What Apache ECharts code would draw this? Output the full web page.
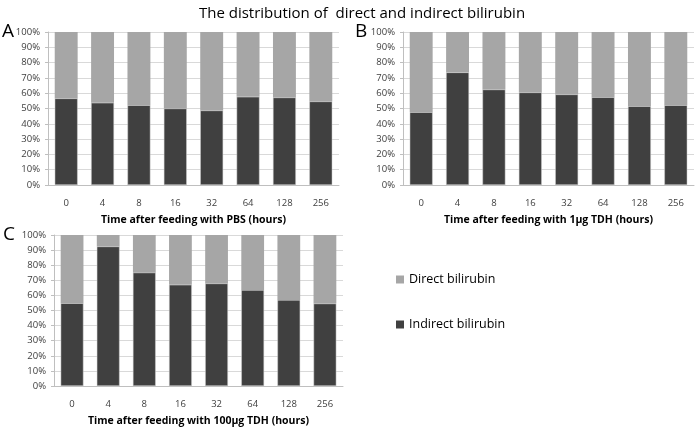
<!DOCTYPE html>
<html><head><meta charset="utf-8">
<script src="https://cdn.jsdelivr.net/npm/echarts@6/dist/echarts.min.js"></script>
<style>html,body{margin:0;padding:0;background:#fff}#c{width:697px;height:428px}</style>
</head><body><div id="c"></div>
<script>
const categories = ['0','4','8','16','32','64','128','256'];
const indirectPBS = [56.6, 53.7, 52.2, 50.0, 48.7, 57.6, 57.2, 54.6];
const indirect1ug = [47.6, 73.6, 62.4, 60.5, 59.2, 57.4, 51.5, 52.2];
const indirect100ug = [54.8, 92.4, 75.1, 67.0, 67.9, 63.5, 57.0, 54.6];
const directPBS = indirectPBS.map(v => +(100 - v).toFixed(1));
const direct1ug = indirect1ug.map(v => +(100 - v).toFixed(1));
const direct100ug = indirect100ug.map(v => +(100 - v).toFixed(1));
const xTitles = ['Time after feeding with PBS (hours)', 'Time after feeding with 1\u00b5g TDH (hours)', 'Time after feeding with 100\u00b5g TDH (hours)'];

const DARK = '#404040', LIGHT = '#a6a6a6';
const FONT = 'Open Sans';
const chart = echarts.init(document.getElementById('c'));
const grids = [
  {left: 48, width: 291, top: 32, height: 153},
  {left: 403, width: 291, top: 32, height: 153},
  {left: 54, width: 289, top: 235, height: 153}
];
const xAxis = grids.map((g, i) => ({
  type: 'category', gridIndex: i, data: categories,
  name: xTitles[i], nameLocation: 'middle', nameGap: 30,
  nameTextStyle: {fontFamily: FONT, fontSize: 10.5, fontWeight: 'bold', color: '#000'},
  axisLine: {show: true, lineStyle: {color: '#bfbfbf'}},
  axisTick: {show: false},
  axisLabel: {fontFamily: FONT, fontSize: 9.5, color: '#404040', margin: 13}
}));
const yAxis = grids.map((g, i) => ({
  type: 'value', gridIndex: i, min: 0, max: 100, interval: 10,
  axisLine: {show: true, lineStyle: {color: '#bfbfbf'}},
  axisTick: {show: true, length: 3, lineStyle: {color: '#bfbfbf'}},
  splitLine: {show: true, lineStyle: {color: '#d9d9d9'}},
  axisLabel: {fontFamily: FONT, fontSize: 9.5, color: '#404040', margin: 8, formatter: '{value}%'}
}));
const ind = [indirectPBS, indirect1ug, indirect100ug];
const dir = [directPBS, direct1ug, direct100ug];
const series = [];
for (let i = 0; i < 3; i++) {
  series.push({name: 'Indirect bilirubin', type: 'bar', stack: 's' + i, xAxisIndex: i, yAxisIndex: i,
    data: ind[i], barCategoryGap: '37%', itemStyle: {color: DARK, borderColor: '#d0d0d0', borderWidth: 0.5}});
  series.push({name: 'Direct bilirubin', type: 'bar', stack: 's' + i, xAxisIndex: i, yAxisIndex: i,
    data: dir[i], barCategoryGap: '37%', itemStyle: {color: LIGHT}});
}
chart.setOption({
  animation: false,
  title: {text: 'The distribution of  direct and indirect bilirubin', left: 357, textAlign: 'center', top: 1,
    textStyle: {fontFamily: FONT, fontSize: 15, fontWeight: 'normal', color: '#000'}},
  graphic: [
    {type: 'text', left: 2, top: 22, style: {text: 'A', fontFamily: FONT, fontSize: 19, fill: '#000'}},
    {type: 'text', left: 355, top: 22, style: {text: 'B', fontFamily: FONT, fontSize: 19, fill: '#000'}},
    {type: 'text', left: 3, top: 225, style: {text: 'C', fontFamily: FONT, fontSize: 19, fill: '#000'}}
  ],
  legend: {orient: 'vertical', left: 391, top: 268, itemGap: 32, itemWidth: 8, itemHeight: 8,
    icon: 'rect', data: ['Direct bilirubin', 'Indirect bilirubin'],
    itemStyle: {borderWidth: 0},
    textStyle: {fontFamily: FONT, fontSize: 12.5, color: '#000'}},
  grid: grids,
  xAxis: xAxis, yAxis: yAxis, series: series
});
</script></body></html>
